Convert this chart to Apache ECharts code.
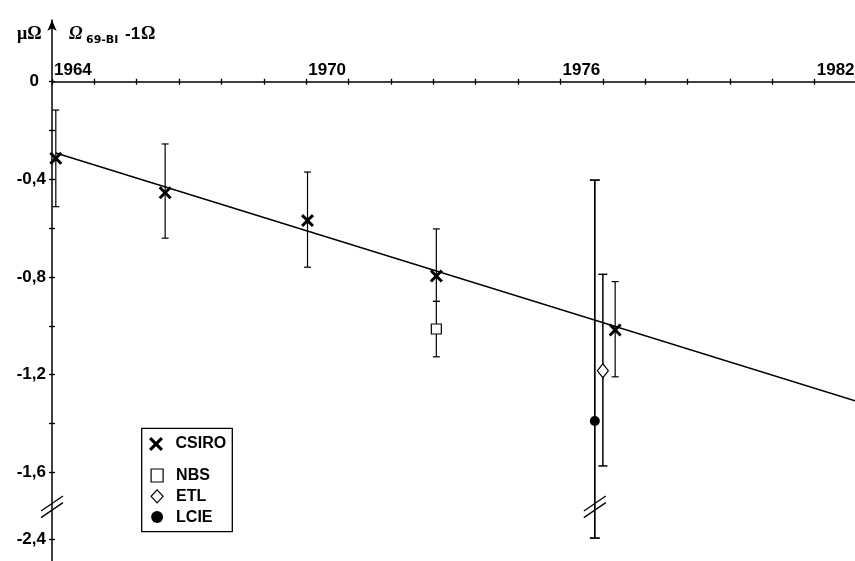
<!DOCTYPE html>
<html><head><meta charset="utf-8">
<script src="https://cdn.jsdelivr.net/npm/echarts@6/dist/echarts.min.js"></script>
<style>html,body{margin:0;padding:0;background:#fff}#c{width:855px;height:561px}</style>
</head><body><div id="c"></div>
<script>
// ---------- data ----------
const csiroYears  = [1964.09, 1966.67, 1970.03, 1973.07, 1977.29];
const csiroValues = [-0.314, -0.455, -0.569, -0.796, -1.017];
const csiroLow    = [-0.512, -0.641, -0.760, -0.900, -1.209];
const csiroHigh   = [-0.116, -0.255, -0.370, -0.603, -0.819];

const nbsYears  = [1973.07];
const nbsValues = [-1.013];
const nbsLow    = [-1.127];
const nbsHigh   = [-0.900];

const etlYears  = [1977.0];
const etlValues = [-1.184];
const etlLow    = [-1.574];
const etlHigh   = [-0.789];

const lcieYears  = [1976.81];
const lcieValues = [-1.390];
const lcieLow    = [-2.390];
const lcieHigh   = [-0.403];

const fitYears  = [1964.09, 1982.95];
const fitValues = [-0.292, -1.307];

const xTickYears  = [1964,1965,1966,1967,1968,1969,1970,1971,1972,1973,1974,1975,1976,1977,1978,1979,1980,1981,1982];
const xLabelYears = [1964, 1970, 1976, 1982];
const yTickValues  = [0,-0.2,-0.4,-0.6,-0.8,-1.0,-1.2,-1.4,-1.6,-2.4];
const yLabelValues = [0,-0.4,-0.8,-1.2,-1.6,-2.4];

// ---------- broken y axis: -1.6 .. -2.4 compressed ----------
const BREAK_TOP = -1.6, BREAK_BOTTOM = -2.4, BREAK_SHOWN = 0.273;
function toAxis(v) {
  if (v >= BREAK_TOP) return v;
  if (v <= BREAK_BOTTOM) return v - BREAK_BOTTOM + BREAK_TOP - BREAK_SHOWN;
  return BREAK_TOP - (BREAK_TOP - v) / (BREAK_TOP - BREAK_BOTTOM) * BREAK_SHOWN;
}
function fromAxis(a) {
  if (a >= BREAK_TOP) return a;
  const lowA = BREAK_TOP - BREAK_SHOWN;
  if (a <= lowA) return a - lowA + BREAK_BOTTOM;
  return BREAK_TOP - (BREAK_TOP - a) / BREAK_SHOWN * (BREAK_TOP - BREAK_BOTTOM);
}
const breakMid = BREAK_TOP - BREAK_SHOWN / 2 - 0.005;

const FONT = 'Liberation Sans, Arial, sans-serif';
const SERIF = 'Liberation Serif, Times New Roman, serif';

function pts(xs, ys) { return xs.map((x, i) => [x, toAxis(ys[i])]); }
function bars(xs, lo, hi) { return xs.map((x, i) => [x, toAxis(lo[i]), toAxis(hi[i])]); }

function errRender(cap, lw) {
  return function (params, api) {
    const x = api.value(0);
    const a = api.coord([x, api.value(1)]);
    const b = api.coord([x, api.value(2)]);
    const st = { stroke: '#000', lineWidth: lw };
    return { type: 'group', children: [
      { type: 'line', shape: { x1: a[0], y1: a[1], x2: b[0], y2: b[1] }, style: st },
      { type: 'line', shape: { x1: a[0] - cap / 2, y1: a[1], x2: a[0] + cap / 2, y2: a[1] }, style: st },
      { type: 'line', shape: { x1: b[0] - cap / 2, y1: b[1], x2: b[0] + cap / 2, y2: b[1] }, style: st }
    ]};
  };
}
function errSeries(name, data, cap, lw) {
  return { type: 'custom', name: name, data: data, renderItem: errRender(cap, lw),
    encode: { x: 0, y: [1, 2] }, z: 1, silent: true, clip: false };
}

const X_PATH = 'path://M1.6,0 L5,3.4 L8.4,0 L10,1.6 L6.6,5 L10,8.4 L8.4,10 L5,6.6 L1.6,10 L0,8.4 L3.4,5 L0,1.6 Z';

const GRID_TOP = 20, GRID_H = 541;
const yMin = -1.9635, yMax = 0.2528;
// pixel distance from grid top / bottom to the zero line, derived from the axis range
const zeroFromTop = GRID_H * yMax / (yMax - yMin);
const zeroFromBottom = GRID_H - zeroFromTop;

const chart = echarts.init(document.getElementById('c'), null, { renderer: 'canvas' });
chart.setOption({
  animation: false,
  backgroundColor: '#fff',
  grid: { left: 52, right: 0, top: GRID_TOP, bottom: 0, containLabel: false, outerBoundsMode: 'none' },
  xAxis: [{
    type: 'value', min: 1964, max: 1982.95, position: 'top', offset: -zeroFromTop,
    axisLine: { show: true, onZero: false, lineStyle: { color: '#000', width: 1.5 } },
    axisTick: { show: true, customValues: xTickYears, length: 3, lineStyle: { color: '#000', width: 1.3 } },
    axisLabel: { show: true, customValues: xLabelYears, align: 'left', margin: 3, padding: [0,0,0,2],
      color: '#000', fontSize: 17, fontWeight: 'bold', fontFamily: FONT, formatter: v => String(Math.round(v)) },
    splitLine: { show: false }
  }, {
    type: 'value', min: 1964, max: 1982.95, position: 'bottom', offset: -zeroFromBottom,
    axisLine: { show: false, onZero: false },
    axisTick: { show: true, customValues: xTickYears, length: 3, lineStyle: { color: '#000', width: 1.3 } },
    axisLabel: { show: false }, splitLine: { show: false }
  }],
  yAxis: [{
    type: 'value', min: yMin, max: yMax, position: 'left',
    axisLine: { show: true, onZero: false, symbol: ['none', 'arrow'], symbolSize: [7, 11],
      lineStyle: { color: '#000', width: 1.5 } },
    axisTick: { show: true, customValues: yTickValues.map(toAxis), length: 3, lineStyle: { color: '#000', width: 1.3 } },
    axisLabel: { show: true, customValues: yLabelValues.map(toAxis), margin: 6,
      color: '#000', fontSize: 17, fontWeight: 'bold', fontFamily: FONT,
      formatter: function (v) {
        const r = Math.round(fromAxis(v) * 10) / 10;
        if (r === 0) return '{z|0}';
        return '-' + Math.abs(r).toFixed(1).replace('.', ',');
      },
      rich: { z: { fontSize: 17, fontWeight: 'bold', fontFamily: FONT, color: '#000', padding: [0, 7, 0, 0] } }
    },
    splitLine: { show: false }
  }, {
    type: 'value', min: yMin, max: yMax, position: 'left',
    axisLine: { show: false, onZero: false },
    axisTick: { show: true, inside: true, customValues: yTickValues.map(toAxis), length: 3, lineStyle: { color: '#000', width: 1.3 } },
    axisLabel: { show: false }, splitLine: { show: false }
  }],
  legend: [{
    data: ['CSIRO'], left: 149, top: 436, padding: 0, itemWidth: 15, itemHeight: 14,
    selectedMode: false,
    itemStyle: { borderWidth: 0 },
    textStyle: { color: '#000', fontSize: 16, fontWeight: 'bold', fontFamily: FONT, padding: [0, 0, 0, 7] }
  }, {
    data: ['NBS', 'ETL', 'LCIE'], orient: 'vertical', left: 150.5, top: 467.5, padding: 0,
    itemWidth: 12, itemHeight: 13, itemGap: 4.8, selectedMode: false,
    itemStyle: { borderWidth: 1.2 },
    textStyle: { color: '#000', fontSize: 16, fontWeight: 'bold', fontFamily: FONT, padding: [0, 0, 0, 8] }
  }],
  graphic: [
    { type: 'rect', z: 0, shape: { x: 141.7, y: 428.3, width: 90.6, height: 103.4 },
      style: { fill: '#fff', stroke: '#000', lineWidth: 1.3 } },
    { type: 'text', x: 17, y: 34.5, style: { text: 'μΩ', fill: '#000', font: 'bold 18px ' + SERIF, verticalAlign: 'middle' } },
    { type: 'text', x: 69, y: 34.5, style: { text: 'Ω', fill: '#000', font: 'italic bold 18px ' + SERIF, verticalAlign: 'middle' } },
    { type: 'text', x: 86, y: 40, style: { text: '69-BI', fill: '#000', font: 'bold 11px DejaVu Sans, ' + FONT, verticalAlign: 'middle' } },
    { type: 'text', x: 125, y: 34.5, style: {
      text: '{a|-1}{b|Ω}', fill: '#000', verticalAlign: 'middle',
      rich: { a: { fontSize: 17, fontWeight: 'bold', fontFamily: FONT, fill: '#000' },
              b: { fontSize: 18, fontWeight: 'bold', fontFamily: SERIF, fill: '#000', padding: [0, 0, 0, 1] } } } }
  ],
  series: [
    errSeries('csiroErr', bars(csiroYears, csiroLow, csiroHigh), 7, 1.2),
    errSeries('nbsErr', bars(nbsYears, nbsLow, nbsHigh), 7, 1.2),
    errSeries('etlErr', bars(etlYears, etlLow, etlHigh), 9, 1.5),
    errSeries('lcieErr', bars(lcieYears, lcieLow, lcieHigh), 10, 1.7),
    { type: 'line', name: 'fit', data: pts(fitYears, fitValues), showSymbol: false, symbol: 'none',
      lineStyle: { color: '#000', width: 1.5 }, z: 2, silent: true },
    { type: 'scatter', name: 'CSIRO', data: pts(csiroYears, csiroValues), symbol: X_PATH, symbolSize: 13,
      itemStyle: { color: '#000', opacity: 1 }, z: 3 },
    { type: 'scatter', name: 'NBS', data: pts(nbsYears, nbsValues), symbol: 'rect', symbolSize: 10,
      itemStyle: { color: '#fff', borderColor: '#000', borderWidth: 1.2, opacity: 1 }, z: 3 },
    { type: 'scatter', name: 'ETL', data: pts(etlYears, etlValues), symbol: 'diamond', symbolSize: [11, 14],
      itemStyle: { color: '#fff', borderColor: '#000', borderWidth: 1.2, opacity: 1 }, z: 3 },
    { type: 'scatter', name: 'LCIE', data: pts(lcieYears, lcieValues), symbol: 'circle', symbolSize: 10,
      itemStyle: { color: '#000', opacity: 1 }, z: 3 },
    { type: 'custom', name: 'breaks', silent: true, clip: false, z: 4,
      data: [[1964, breakMid], [lcieYears[0], breakMid]],
      encode: { x: 0, y: 1 },
      renderItem: function (params, api) {
        const p = api.coord([api.value(0), api.value(1)]);
        const dx = 11, dy = 7.5, off = 3.3;
        const st = { stroke: '#000', lineWidth: 1.3 };
        return { type: 'group', children: [
          { type: 'line', shape: { x1: p[0] - dx, y1: p[1] - off + dy, x2: p[0] + dx, y2: p[1] - off - dy }, style: st },
          { type: 'line', shape: { x1: p[0] - dx, y1: p[1] + off + dy, x2: p[0] + dx, y2: p[1] + off - dy }, style: st }
        ]};
      }
    }
  ]
});
</script>
</body></html>
